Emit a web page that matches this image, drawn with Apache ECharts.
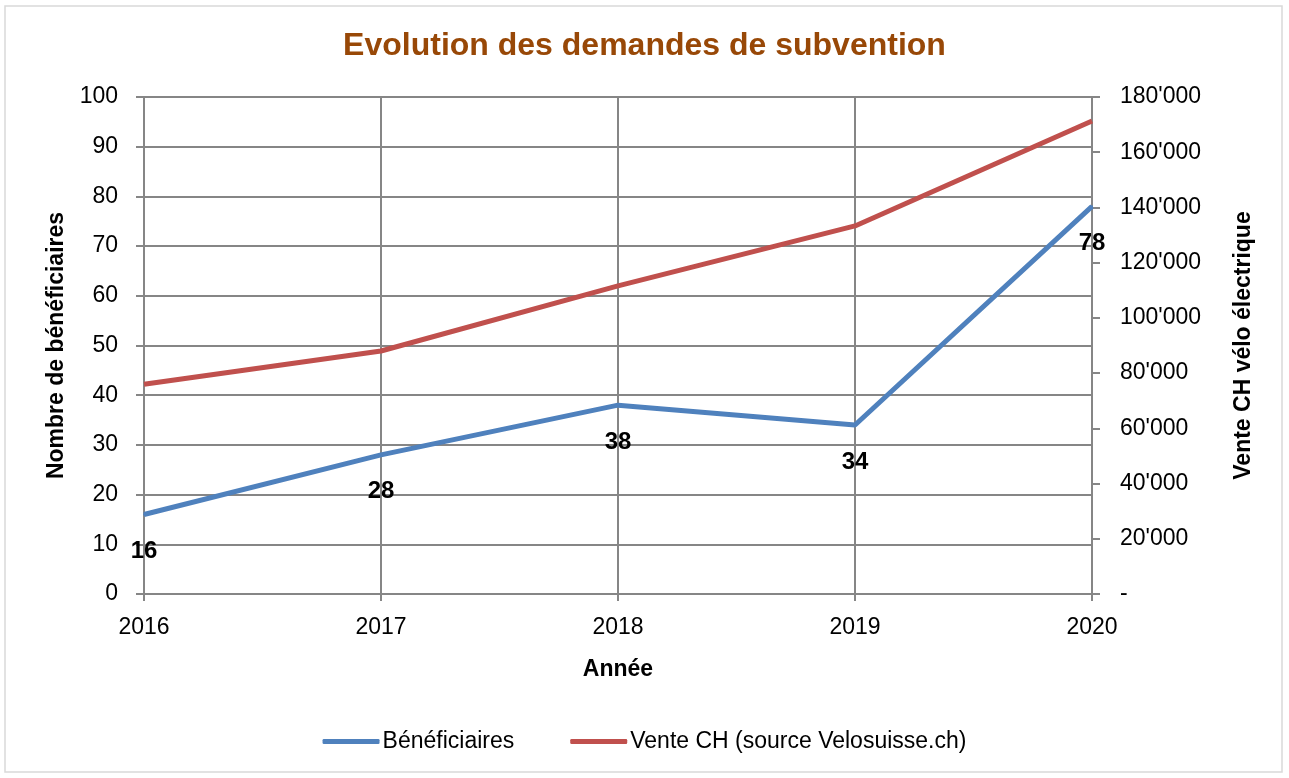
<!DOCTYPE html>
<html>
<head>
<meta charset="utf-8">
<script src="https://cdn.jsdelivr.net/npm/echarts@6/dist/echarts.min.js"></script>
<style>
  html, body { margin: 0; padding: 0; background: #fff; }
  #main { width: 1289px; height: 778px; }
</style>
</head>
<body>
<div id="main"></div>
<script>
// données
var annees = ['2016', '2017', '2018', '2019', '2020'];
var beneficiaires = [16, 28, 38, 34, 78];
var ventesCH = [76000, 88000, 111600, 133300, 171300];

(function () {
    var fontTxt = 'Liberation Sans, Arial, sans-serif';
    var gris = '#868686';
    var chart = echarts.init(document.getElementById('main'));

    var fmtMilliers = function (v) {
        if (v === 0) return '-';
        return String(v).replace(/\B(?=(\d{3})+(?!\d))/g, "'");
    };

    var option = {
        backgroundColor: '#fff',
        animation: false,
        graphic: [{
            type: 'rect',
            shape: { x: 5, y: 6, width: 1277, height: 766 },
            style: { fill: 'none', stroke: '#d9d9d9', lineWidth: 1.5 }
        }],
        title: {
            text: 'Evolution des demandes de subvention',
            left: 'center',
            top: 25,
            textStyle: { color: '#984807', fontSize: 32, fontWeight: 'bold', fontFamily: fontTxt }
        },
        grid: { left: 144, right: 197, top: 97, bottom: 184 },
        legend: {
            bottom: 20,
            left: 'center',
            itemWidth: 57,
            itemHeight: 5,
            itemGap: 56,
            icon: 'roundRect',
            textStyle: { fontSize: 23, color: '#000', fontFamily: fontTxt, padding: [0, 0, 0, -2] },
            data: ['Bénéficiaires', 'Vente CH (source Velosuisse.ch)']
        },
        xAxis: {
            type: 'category',
            data: annees,
            boundaryGap: false,
            name: 'Année',
            nameLocation: 'middle',
            nameGap: 64,
            nameTextStyle: { fontSize: 23, fontWeight: 'bold', color: '#000', fontFamily: fontTxt },
            axisLine: { lineStyle: { color: gris, width: 2 } },
            axisTick: { show: true, length: 7, lineStyle: { color: gris, width: 2 } },
            axisLabel: { fontSize: 23, color: '#000', margin: 22, fontFamily: fontTxt },
            splitLine: { show: true, lineStyle: { color: gris, width: 2 } }
        },
        yAxis: [{
            type: 'value',
            min: 0, max: 100, interval: 10,
            name: 'Nombre de bénéficiaires',
            nameLocation: 'middle',
            nameGap: 76,
            nameTextStyle: { fontSize: 23, fontWeight: 'bold', color: '#000', fontFamily: fontTxt },
            axisLine: { show: true, lineStyle: { color: gris, width: 2 } },
            axisTick: { show: true, length: 8, lineStyle: { color: gris, width: 2 } },
            axisLabel: { fontSize: 23, color: '#000', margin: 26, fontFamily: fontTxt },
            splitLine: { show: true, lineStyle: { color: gris, width: 2 } }
        }, {
            type: 'value',
            min: 0, max: 180000, interval: 20000,
            position: 'right',
            name: 'Vente CH vélo électrique',
            nameLocation: 'middle',
            nameGap: 140,
            nameRotate: 90,
            nameTextStyle: { fontSize: 23, fontWeight: 'bold', color: '#000', fontFamily: fontTxt },
            axisLine: { show: true, lineStyle: { color: gris, width: 2 } },
            axisTick: { show: true, length: 8, lineStyle: { color: gris, width: 2 } },
            axisLabel: { fontSize: 23, color: '#000', margin: 28, fontFamily: fontTxt, formatter: fmtMilliers },
            splitLine: { show: false }
        }],
        series: [{
            name: 'Bénéficiaires',
            type: 'line',
            data: beneficiaires,
            yAxisIndex: 0,
            symbol: 'circle',
            symbolSize: 2,
            showSymbol: true,
            lineStyle: { color: '#4f81bd', width: 5 },
            itemStyle: { color: '#4f81bd' },
            label: {
                show: true,
                position: 'bottom',
                distance: 24,
                fontSize: 24,
                fontWeight: 'bold',
                color: '#000',
                fontFamily: fontTxt
            },
            z: 3
        }, {
            name: 'Vente CH (source Velosuisse.ch)',
            type: 'line',
            data: ventesCH,
            yAxisIndex: 1,
            symbol: 'none',
            lineStyle: { color: '#c0504d', width: 5 },
            itemStyle: { color: '#c0504d' },
            z: 2
        }]
    };
    chart.setOption(option);
})();
</script>
</body>
</html>
